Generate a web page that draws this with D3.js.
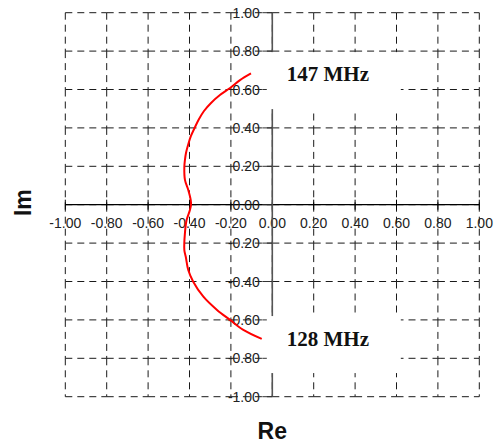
<!DOCTYPE html>
<html>
<head>
<meta charset="utf-8">
<script src="https://cdn.jsdelivr.net/npm/d3@7"></script>
<style>
  html, body { margin: 0; padding: 0; background: #fff; }
  svg { display: block; }
</style>
</head>
<body>
<script>
// Impedance locus between 128 MHz and 147 MHz (real vs imaginary part)
const reValues = [-0.103, -0.156, -0.204, -0.253, -0.296, -0.330, -0.354, -0.373, -0.393, -0.407,
                  -0.417, -0.422, -0.425, -0.422, -0.406, -0.394, -0.393, -0.398, -0.414, -0.422,
                  -0.425, -0.418, -0.406, -0.382, -0.333, -0.267, -0.204, -0.140, -0.051];
const imValues = [0.684, 0.649, 0.608, 0.571, 0.530, 0.488, 0.446, 0.405, 0.358, 0.311,
                  0.269, 0.233, 0.196, 0.129, 0.077, 0.024, -0.002, -0.028, -0.080, -0.147,
                  -0.236, -0.271, -0.340, -0.401, -0.479, -0.548, -0.600, -0.652, -0.699];

const tickValues = [-1, -0.8, -0.6, -0.4, -0.2, 0, 0.2, 0.4, 0.6, 0.8, 1];
const xTickLabels = ["-1.00", "-0.80", "-0.60", "-0.40", "-0.20", "0.00", "0.20", "0.40", "0.60", "0.80", "1.00"];
const yTickLabels = ["-1.00", "-0.80", "-0.60", "-0.40", "-0.20", "0.00", "0.20", "0.40", "0.60", "0.80", "1.00"];

const freqLabels = ["147 MHz", "128 MHz"];
const freqLabelRe = [0.07, 0.07];
const freqLabelIm = [0.645, -0.735];

const W = 503, H = 445;
const svg = d3.select("body").append("svg").attr("width", W).attr("height", H);

const x = d3.scaleLinear().domain([-1, 1]).range([65.3, 479.3]);
const y = d3.scaleLinear().domain([-1, 1]).range([396.7, 12.7]);

const gridColor = "#1a1a1a";
const dash = "7,5";

// dashed grid, drawn cell edge by cell edge
const grid = svg.append("g").attr("fill", "none").attr("stroke", gridColor)
  .attr("stroke-width", 1).attr("stroke-dasharray", dash);
for (let i = 0; i < tickValues.length; i++) {
  for (let j = 0; j < tickValues.length - 1; j++) {
    // horizontal segment
    grid.append("line")
      .attr("x1", x(tickValues[j])).attr("x2", x(tickValues[j + 1]))
      .attr("y1", y(tickValues[i])).attr("y2", y(tickValues[i]));
    // vertical segment
    grid.append("line")
      .attr("x1", x(tickValues[i])).attr("x2", x(tickValues[i]))
      .attr("y1", y(tickValues[tickValues.length - 1 - j]))
      .attr("y2", y(tickValues[tickValues.length - 2 - j]));
  }
}

// real axis
const xAxis = svg.append("g");
xAxis.append("line")
  .attr("x1", x(-1)).attr("x2", x(1)).attr("y1", y(0)).attr("y2", y(0))
  .attr("stroke", "#000").attr("stroke-width", 1.2);
xAxis.selectAll("line.tick").data(tickValues).join("line").attr("class", "tick")
  .attr("x1", d => x(d)).attr("x2", d => x(d))
  .attr("y1", y(0) - 5).attr("y2", y(0) + 5)
  .attr("stroke", "#000").attr("stroke-width", 1);
xAxis.selectAll("text").data(tickValues).join("text")
  .attr("x", d => x(d)).attr("y", y(0) + 23.5)
  .attr("text-anchor", "middle")
  .attr("font-family", "Liberation Sans, Arial, sans-serif").attr("font-size", 14)
  .attr("fill", "#222")
  .text((d, i) => xTickLabels[i]);

// imaginary axis
const yAxis = svg.append("g");
yAxis.append("line")
  .attr("x1", x(0)).attr("x2", x(0)).attr("y1", y(1)).attr("y2", y(-1))
  .attr("stroke", "#555").attr("stroke-width", 1.6);
yAxis.selectAll("line.tick").data(tickValues).join("line").attr("class", "tick")
  .attr("x1", x(0) - 10).attr("x2", x(0))
  .attr("y1", d => y(d)).attr("y2", d => y(d))
  .attr("stroke", "#333").attr("stroke-width", 1);
yAxis.selectAll("text").data(tickValues).join("text")
  .attr("x", x(0) - 12.5).attr("y", d => y(d) + 5)
  .attr("text-anchor", "end")
  .attr("font-family", "Liberation Sans, Arial, sans-serif").attr("font-size", 14)
  .attr("fill", "#222")
  .text((d, i) => yTickLabels[i]);

// white backing behind the frequency labels
svg.selectAll("rect.labelbg").data(freqLabelIm).join("rect").attr("class", "labelbg")
  .attr("x", x(0) - 5.5)
  .attr("y", d => d > 0 ? y(0.8) + 1 : y(-0.58))
  .attr("width", 134)
  .attr("height", 57)
  .attr("fill", "#fff");

// locus curve
const pts = reValues.map((r, i) => [r, imValues[i]]);
const line = d3.line().x(d => x(d[0])).y(d => y(d[1])).curve(d3.curveCatmullRom.alpha(0.5));
svg.append("path").datum(pts)
  .attr("d", line)
  .attr("fill", "none").attr("stroke", "#ff0000").attr("stroke-width", 2);

// frequency labels
svg.selectAll("text.freq").data(freqLabels).join("text").attr("class", "freq")
  .attr("x", (d, i) => x(freqLabelRe[i]))
  .attr("y", (d, i) => y(freqLabelIm[i]))
  .attr("font-family", "Liberation Serif, Times New Roman, serif")
  .attr("font-weight", "bold").attr("font-size", 21)
  .attr("fill", "#111")
  .text(d => d);

// axis titles
svg.append("text")
  .attr("x", x(0)).attr("y", 439)
  .attr("text-anchor", "middle")
  .attr("font-family", "Liberation Sans, Arial, sans-serif")
  .attr("font-weight", "bold").attr("font-size", 23)
  .attr("fill", "#111")
  .text("Re");
svg.append("text")
  .attr("transform", `translate(31,${y(0) - 2}) rotate(-90)`)
  .attr("text-anchor", "middle")
  .attr("font-family", "Liberation Sans, Arial, sans-serif")
  .attr("font-weight", "bold").attr("font-size", 23)
  .attr("fill", "#111")
  .text("Im");
</script>
</body>
</html>
